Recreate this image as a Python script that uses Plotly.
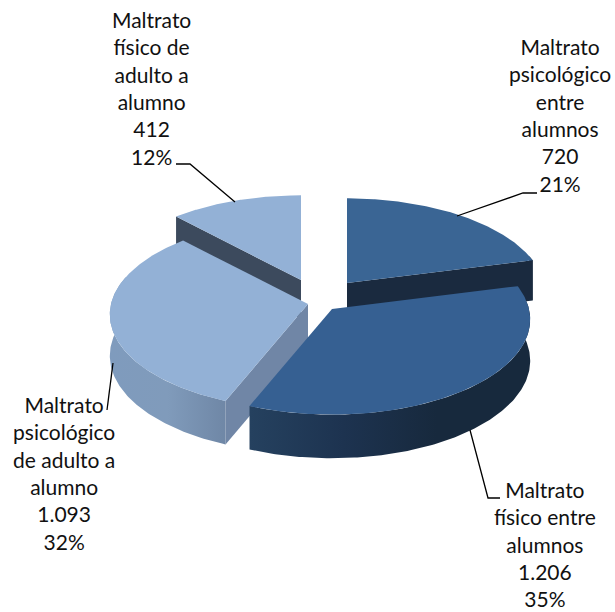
import numpy as np
import plotly.graph_objects as go

categories = ["Maltrato psicológico entre alumnos", "Maltrato físico entre alumnos",
              "Maltrato psicológico de adulto a alumno", "Maltrato físico de adulto a alumno"]
label_lines = [["Maltrato", "psicológico", "entre", "alumnos"],
               ["Maltrato", "físico entre", "alumnos"],
               ["Maltrato", "psicológico", "de adulto a", "alumno"],
               ["Maltrato", "físico de", "adulto a", "alumno"]]
values = [720, 1206, 1093, 412]
value_labels = ["720", "1.206", "1.093", "412"]
pct_labels = ["21%", "35%", "32%", "12%"]

top_colors = ["#3a6594", "#366092", "#93b1d6", "#93b1d6"]
wall_colors = ["#1a2a3f", "#1a2a3f", "#7086a6", "#3c4a5d"]
side_scales = [["#1a2a3f", "#1a2a3f"], ["#25415f", "#1d3350", "#17293d", "#17293d"],
               ["#7f9bbd", "#809bbb", "#6f87a6"], ["#3c4a5d", "#3c4a5d"]]
apex_x = [347, 332, 308, 301]
apex_y = [283, 309, 304, 280]
label_x = [560, 545, 64, 151]
label_y = [115, 544, 473, 88]
leaders = [([457, 523, 537], [216, 193, 193]),
           ([470, 488, 500], [430, 498, 498]),
           ([113, 107], [363, 410]),
           ([235, 190, 176], [202, 164, 164])]
R, B, K, DEPTH = 197.0, 94.0, 0.11, 41.0
draw_order = [3, 0, 2, 1]

total = sum(values)
cum = np.cumsum([0] + values) / total * 2 * np.pi


def project(theta, ax, ay):
    X, Y = np.sin(theta), np.cos(theta)
    f = 1 + K * Y
    return ax + R * X / f, ay - B * Y / f


def depth(theta):
    return DEPTH / (1 + 0.06 * np.cos(theta))


fig = go.Figure()


def poly(x, y, color=None, gradient=None):
    kw = dict(fillcolor=color) if gradient is None else dict(
        fillgradient=dict(type="horizontal",
                          colorscale=[[i / (len(gradient) - 1), c] for i, c in enumerate(gradient)]))
    fig.add_trace(go.Scatter(x=list(x), y=list(y), mode="lines", fill="toself",
                             line=dict(width=0, color="rgba(0,0,0,0)"),
                             hoverinfo="skip", showlegend=False, **kw))


for i in draw_order:
    t0, t1 = cum[i], cum[i + 1]
    ax, ay = apex_x[i], apex_y[i]
    th = np.linspace(t0, t1, 160)
    ex, ey = project(th, ax, ay)
    # radial wall facing the viewer
    if i != 1:
        wall_t = t1 if i == 0 else t0
        wx, wy = project(wall_t, ax, ay)
        d = depth(wall_t)
        poly([ax, wx, wx, ax], [ay, wy, wy + d, ay + d], wall_colors[i])
    # outer rim, where it faces the viewer
    mask = np.cos(th) < 0.3
    if mask.any():
        rx, ry = ex[mask], ey[mask]
        rd = depth(th[mask])
        poly(np.r_[rx, rx[::-1]], np.r_[ry, (ry + rd)[::-1]], gradient=side_scales[i])
    # top face
    poly(np.r_[ax, ex], np.r_[ay, ey], top_colors[i])

for lx, ly in leaders:
    fig.add_trace(go.Scatter(x=lx, y=ly, mode="lines", line=dict(color="black", width=1.3),
                             hoverinfo="skip", showlegend=False))

for i in range(4):
    text = "<br>".join(label_lines[i] + [value_labels[i], pct_labels[i]])
    fig.add_annotation(x=label_x[i], y=label_y[i], text=text, showarrow=False, xref="x", yref="y",
                       align="center", font=dict(family="Lato", size=21, color="#111111"))

fig.update_layout(width=615, height=612, margin=dict(l=0, r=0, t=0, b=0),
                  paper_bgcolor="white", plot_bgcolor="white",
                  xaxis=dict(range=[0, 615], visible=False, fixedrange=True),
                  yaxis=dict(range=[612, 0], visible=False, fixedrange=True))
fig.write_html("out.html", config=dict(displayModeBar=False),
               post_script="document.body.style.margin='0';document.body.style.overflow='hidden';")
